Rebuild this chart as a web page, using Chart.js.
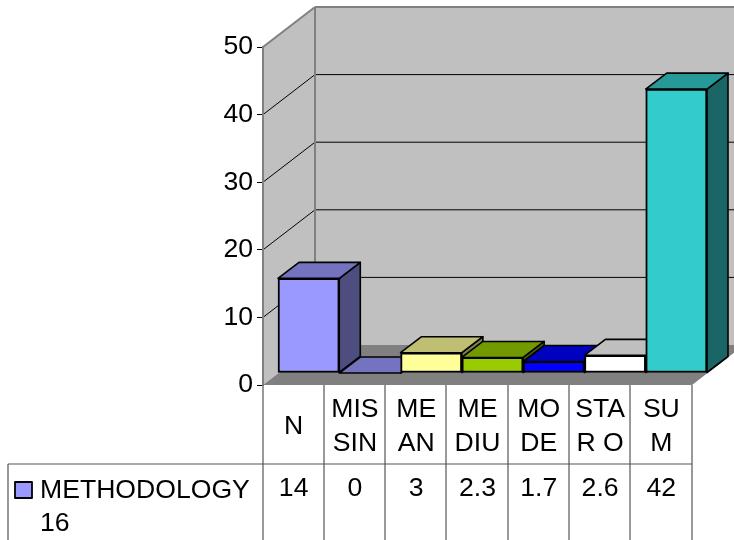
<!DOCTYPE html>
<html>
<head>
<meta charset="utf-8">
<title>Methodology</title>
<script src="https://cdn.jsdelivr.net/npm/chart.js@4"></script>
<style>
html, body { margin: 0; padding: 0; background: #fff; }
canvas { display: block; }
</style>
</head>
<body>
<canvas id="graph" width="734" height="540"></canvas>
<script>
// data
const categories = [['N'], ['MIS', 'SIN'], ['ME', 'AN'], ['ME', 'DIU'], ['MO', 'DE'], ['STA', 'R O'], ['SU', 'M']];
const values = [14, 0, 3, 2.3, 1.7, 2.6, 42];
const seriesName = ['METHODOLOGY', '16'];
const yTicks = [0, 10, 20, 30, 40, 50];

// colours of the faces
const frontColors = ['#9999ff', '#9999ff', '#ffff99', '#99cc00', '#0000ff', '#ffffff', '#33cccc'];
const topColors = ['#7373bf', '#7373bf', '#bfbf73', '#739900', '#0000bf', '#bfbfbf', '#269999'];
const sideColors = ['#4d4d80', '#4d4d80', '#80804d', '#4d6600', '#000080', '#808080', '#1a6666'];

const FONT = '"Liberation Sans", Arial, sans-serif';
const FONT_SIZE = 26.6;
const GREY = '#808080';
const LINE = '#555555';

// fake 3d: depth of the box and where the bars stand in it
const box = { dx: 52, dy: 40 };
const barShift = { x: 15, y: -12 };
const barDepth = { x: 21, y: -16 };

function poly(ctx, pts, fill, stroke, width) {
    ctx.beginPath();
    pts.forEach((p, i) => i ? ctx.lineTo(p[0], p[1]) : ctx.moveTo(p[0], p[1]));
    ctx.closePath();
    if (fill) {
        ctx.fillStyle = fill;
        ctx.fill();
    }
    if (stroke) {
        ctx.strokeStyle = stroke;
        ctx.lineWidth = width;
        ctx.lineJoin = 'round';
        ctx.stroke();
    }
}

function line(ctx, x1, y1, x2, y2, color, width) {
    ctx.beginPath();
    ctx.moveTo(x1, y1);
    ctx.lineTo(x2, y2);
    ctx.strokeStyle = color;
    ctx.lineWidth = width;
    ctx.stroke();
}

const box3d = {
    id: 'box3d',
    // walls and floor
    beforeDraw(chart) {
        const ctx = chart.ctx;
        const { left, right, top, bottom } = chart.chartArea;
        const { dx, dy } = box;
        ctx.save();
        poly(ctx, [[left, top], [left + dx, top - dy], [right + dx, top - dy], [right + dx, bottom - dy], [left + dx, bottom - dy], [left, bottom]], '#c0c0c0');
        poly(ctx, [[left, bottom], [left + dx, bottom - dy], [right + dx, bottom - dy], [right, bottom]], GREY);
        yTicks.forEach(t => {
            if (t === 0 || t === 50) return;
            const y = chart.scales.y.getPixelForValue(t);
            line(ctx, left, y, left + dx, y - dy, '#000', 1);
            line(ctx, left + dx, y - dy, right + dx, y - dy, '#000', 1);
        });
        line(ctx, left, top, left + dx, top - dy, GREY, 2);
        line(ctx, left + dx, top - dy, right + dx, top - dy, GREY, 2);
        line(ctx, left + dx, top - dy, left + dx, bottom - dy, GREY, 2);
        ctx.restore();
    },
    // tops and sides, left to right so the next bar covers the one before
    beforeDatasetDraw(chart, args) {
        const ctx = chart.ctx;
        ctx.save();
        args.meta.data.forEach((bar, i) => {
            const l = bar.x - bar.width / 2 + barShift.x;
            const r = bar.x + bar.width / 2 + barShift.x;
            const t = bar.y + barShift.y;
            const b = bar.base + barShift.y;
            poly(ctx, [[r, t], [r + barDepth.x, t + barDepth.y], [r + barDepth.x, b + barDepth.y], [r, b]], sideColors[i], '#000', 1.6);
            poly(ctx, [[l, t], [l + barDepth.x, t + barDepth.y], [r + barDepth.x, t + barDepth.y], [r, t]], topColors[i], '#000', 1.6);
        });
        ctx.restore();
        // the real bars are the front faces
        ctx.save();
        ctx.translate(barShift.x, barShift.y);
    },
    afterDatasetDraw(chart) {
        chart.ctx.restore();
    },
    // data table under the chart
    afterDraw(chart) {
        const ctx = chart.ctx;
        const x = chart.scales.x;
        const { left, right, bottom } = chart.chartArea;
        const h = chart.height;
        const rowY = 464;
        const cell = (right - left) / categories.length;
        ctx.save();
        line(ctx, 8, rowY, right, rowY, LINE, 1.2);
        line(ctx, 8, rowY, 8, h, LINE, 1.2);
        for (let i = 0; i <= categories.length; i++) {
            const px = Math.floor(left + i * cell);
            line(ctx, px, bottom, px, h, LINE, 1.2);
        }
        ctx.fillStyle = '#000';
        ctx.font = FONT_SIZE + 'px ' + FONT;
        ctx.textAlign = 'center';
        ctx.textBaseline = 'alphabetic';
        values.forEach((v, i) => ctx.fillText(String(v), x.getPixelForValue(i), 496));
        ctx.textAlign = 'left';
        ctx.fillText(seriesName[0], 40, 498);
        ctx.fillText(seriesName[1], 40, 531);
        poly(ctx, [[15, 482], [32, 482], [32, 498], [15, 498]], frontColors[0], '#000', 1.8);
        ctx.restore();
    }
};

new Chart(document.getElementById('graph'), {
    type: 'bar',
    data: {
        labels: categories,
        datasets: [{
            label: seriesName.join(' '),
            data: values,
            backgroundColor: frontColors,
            borderColor: '#000',
            borderWidth: 2,
            borderSkipped: false,
            barPercentage: 1,
            categoryPercentage: 1,
            clip: false
        }]
    },
    options: {
        responsive: false,
        animation: false,
        layout: { padding: { top: 47, right: 42, left: 0, bottom: 0 } },
        plugins: { legend: { display: false }, tooltip: { enabled: false } },
        scales: {
            x: {
                afterFit(scale) { scale.height = 155; },
                grid: { display: false },
                border: { display: false },
                ticks: {
                    autoSkip: false,
                    maxRotation: 0,
                    minRotation: 0,
                    crossAlign: 'center',
                    padding: 17,
                    color: '#000',
                    font: { family: FONT, size: FONT_SIZE, lineHeight: 1.28 }
                }
            },
            y: {
                min: 0,
                max: 50,
                afterFit(scale) { scale.width = 263; },
                afterBuildTicks(scale) { scale.ticks = yTicks.map(value => ({ value })); },
                grid: { drawOnChartArea: false, drawTicks: true, tickLength: 6, tickColor: '#000', tickWidth: 1 },
                border: { color: GREY, width: 2 },
                ticks: { padding: 4, color: '#000', font: { family: FONT, size: FONT_SIZE } }
            }
        }
    },
    plugins: [box3d]
});
</script>
</body>
</html>
